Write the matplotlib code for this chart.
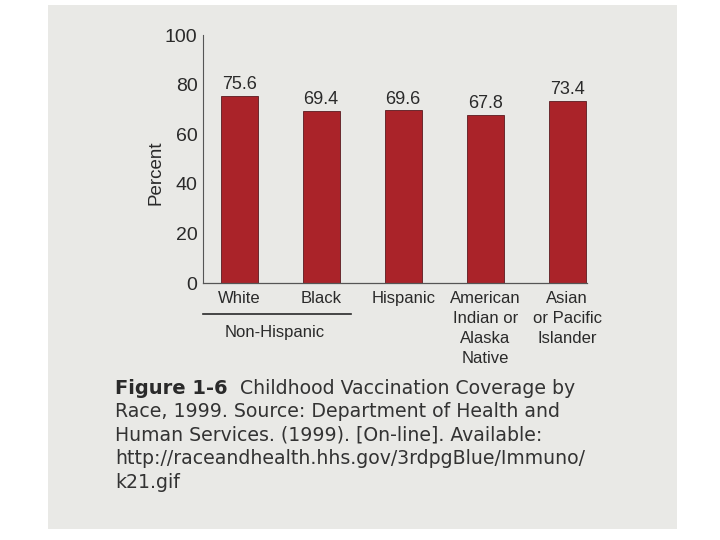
import matplotlib
matplotlib.use("Agg")
import matplotlib.pyplot as plt
from matplotlib.patches import Rectangle
from matplotlib.lines import Line2D

plt.rcParams["font.family"] = ["Liberation Sans", "DejaVu Sans"]

categories = ["White", "Black", "Hispanic", "American\nIndian or\nAlaska\nNative", "Asian\nor Pacific\nIslander"]
values = [75.6, 69.4, 69.6, 67.8, 73.4]
yticks = [0, 20, 40, 60, 80, 100]
group_label = "Non-Hispanic"
caption_bold = "Figure 1-6"
caption_lines = [
    "  Childhood Vaccination Coverage by",
    "Race, 1999. Source: Department of Health and",
    "Human Services. (1999). [On-line]. Available:",
    "http://raceandhealth.hhs.gov/3rdpgBlue/Immuno/",
    "k21.gif",
]

W, H = 720, 540
page = "#e9e9e6"
ink = "#2a2a2a"
fig = plt.figure(figsize=(7.2, 5.4), dpi=100)
fig.patch.set_facecolor("white")
fig.add_artist(Rectangle((48 / W, 1 - 529 / H), (677 - 48) / W, (529 - 5) / H,
                         transform=fig.transFigure, facecolor=page, edgecolor="none", zorder=0))

ax = fig.add_axes([203 / W, 1 - 283 / H, (587 - 203) / W, (283 - 35) / H])
ax.set_facecolor("none")
x = list(range(len(values)))
ax.bar(x, values, width=0.45, color="#aa2329", edgecolor="#5a1a20", linewidth=0.6, zorder=2)
for xi, v in zip(x, values):
    ax.text(xi, v + 1.0, f"{v:.1f}", ha="center", va="bottom", fontsize=13, color=ink)
ax.set_xlim(-0.44, 4.24)
ax.set_ylim(0, 100)
ax.set_yticks(yticks)
ax.tick_params(axis="y", length=0, labelsize=14, labelcolor=ink, pad=4)
ax.set_xticks(x)
ax.set_xticklabels(categories, fontsize=12, color=ink, linespacing=1.42, va="top")
ax.tick_params(axis="x", length=0, pad=6)
for s in ["top", "right"]:
    ax.spines[s].set_visible(False)
ax.spines["left"].set_color("#555555")
ax.spines["bottom"].set_color("#555555")
ax.spines["left"].set_linewidth(0.8)
ax.spines["bottom"].set_linewidth(0.9)
ax.set_ylabel("Percent", fontsize=13.5, color=ink)
ax.yaxis.set_label_coords((164 - 203) / (587 - 203), (283 - 173) / (283 - 35))

# Non-Hispanic grouping line
fig.add_artist(Line2D([203 / W, 351 / W], [1 - 314 / H, 1 - 314 / H], transform=fig.transFigure,
                      color=ink, linewidth=1.2))
fig.text(275 / W, 1 - 333 / H, group_label, ha="center", va="center", fontsize=12, color=ink)

# caption
cap_font = ["DejaVu Sans"]
y0 = 388
t = fig.text(115 / W, 1 - y0 / H, caption_bold, ha="left", va="center", fontsize=14,
             fontweight="bold", color=ink, family=cap_font)
fig.canvas.draw()
bb = t.get_window_extent()
fig.text(bb.x1 / W, 1 - y0 / H, caption_lines[0], ha="left", va="center", fontsize=13.6,
         color="#333333", family=cap_font)
for i, line in enumerate(caption_lines[1:], start=1):
    fig.text(115 / W, 1 - (y0 + 23.6 * i) / H, line, ha="left", va="center", fontsize=13.6,
             color="#333333", family=cap_font)

fig.savefig("out.png", dpi=100, facecolor=fig.get_facecolor())
